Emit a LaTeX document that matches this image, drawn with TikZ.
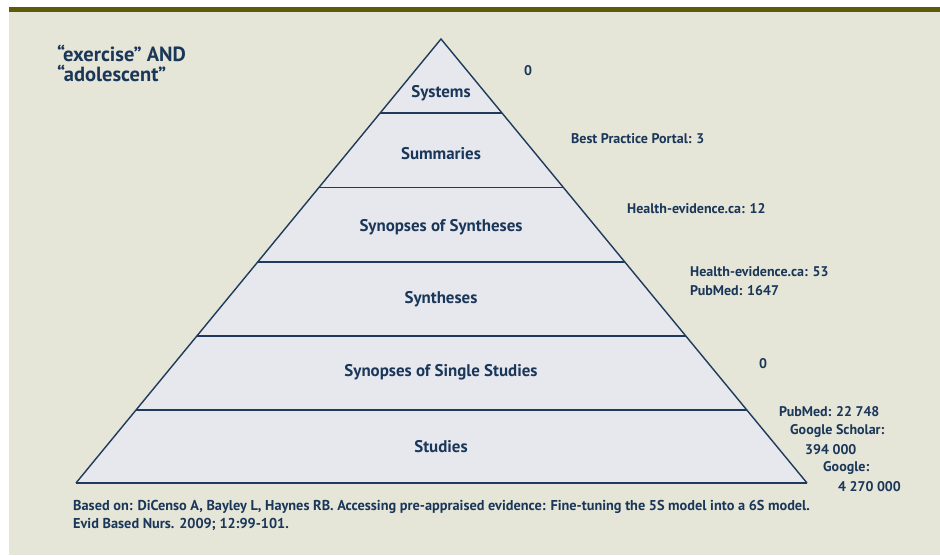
\documentclass[tikz,border=0pt]{standalone}
\usepackage{fontspec}
\setmainfont{PT Sans}
\usetikzlibrary{calc}
\definecolor{navy}{HTML}{1A3658}
\definecolor{lineblue}{HTML}{1F3A5A}
\definecolor{pyrfill}{HTML}{E6E8EE}
\definecolor{bgbeige}{HTML}{E5E5D8}
\definecolor{olive}{HTML}{5E5A0C}
\tikzset{
  lvl/.style={text=navy, font=\bfseries\fontsize{16.9}{18}\selectfont, inner sep=0pt},
  cnt/.style={text=navy, font=\bfseries\fontsize{14}{19}\selectfont, inner sep=0pt, anchor=west, align=left},
  edge/.style={draw=lineblue, line width=1.4pt, line join=miter},
  divider/.style={draw=lineblue, line width=1.6pt},
}
\begin{document}
\begin{tikzpicture}[x=1pt,y=-1pt]
\useasboundingbox (0,0) rectangle (940,555);
\fill[white] (0,0) rectangle (940,555);
\fill[bgbeige] (9,11) rectangle (940,555);
\fill[olive] (9,7) rectangle (940,11.5);
% pyramid
\coordinate (A) at (441,39);
\coordinate (L) at (76,483);
\coordinate (R) at (807,483);
\fill[pyrfill] (L) -- (A) -- (R) -- cycle;
\foreach \y/\n in {113/1,187.5/2,262/3,336/4,410/5}{
  \pgfmathsetmacro{\t}{(\y-39)/444}
  \coordinate (l\n) at ($(A)!\t!(L)$);
  \coordinate (r\n) at ($(A)!\t!(R)$);
  \draw[divider] (l\n) -- (r\n);
}
\draw[divider] (L) -- (R);
\draw[edge] (L) -- (A) -- (R);
% level labels
\node[lvl] (sys) at (441,93) {Systems};
\node[lvl] (sum) at (441,154) {Summaries};
\node[lvl] (sos) at (441,227) {Synopses of Syntheses};
\node[lvl] (syn) at (441,299) {Syntheses};
\node[lvl] (sss) at (441,372) {Synopses of Single Studies};
\node[lvl] (stu) at (441,447) {Studies};
% query
\node[text=navy, font=\bfseries\fontsize{20.5}{20}\selectfont, inner sep=0pt, anchor=north west, align=left] (q) at (57,45) {“exercise” AND\\“adolescent”};
% counts
\node[cnt, anchor=center] (c1) at (528,71) {0};
\node[cnt] (c2) at (571,139) {Best Practice Portal: 3};
\node[cnt] (c3) at (627,209) {Health-evidence.ca: 12};
\node[cnt] (c4) at (690,281.5) {Health-evidence.ca: 53\\PubMed: 1647};
\node[cnt, anchor=center] (c5) at (763,364) {0};
\node[cnt] (c6a) at (779,412) {PubMed: 22 748};
\node[cnt] (c6b) at (790,431) {Google Scholar:};
\node[cnt] (c6c) at (805,449.5) {394 000};
\node[cnt] (c6d) at (823,468) {Google:};
\node[cnt] (c6e) at (838,487) {4 270 000};
% footer
\node[text=navy, font=\bfseries\fontsize{14.3}{18}\selectfont, inner sep=0pt, anchor=west, align=left] (foot) at (73,515) {Based on: DiCenso A, Bayley L, Haynes RB. Accessing pre-appraised evidence: Fine-tuning the 5S model into a 6S model.\\Evid Based Nurs. 2009; 12:99-101.};
\end{tikzpicture}
\end{document}
